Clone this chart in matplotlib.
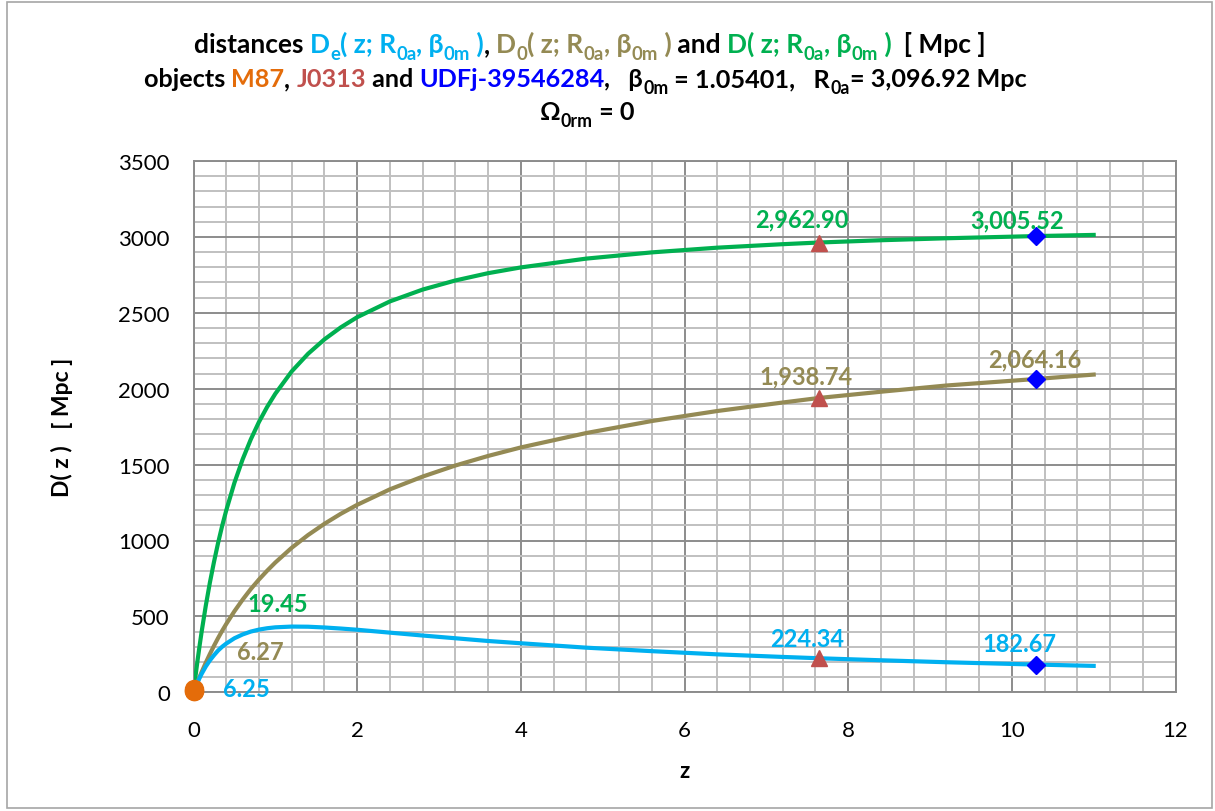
import matplotlib
matplotlib.use('Agg')
import matplotlib.pyplot as plt
from matplotlib.ticker import MultipleLocator
from matplotlib.patches import Rectangle

FAM = ['Lato', 'DejaVu Sans']
plt.rcParams['font.family'] = FAM

# distance curves read along z
z_grid = [0, 0.025, 0.05, 0.075, 0.1, 0.15, 0.2, 0.25, 0.3, 0.35, 0.4, 0.5, 0.6, 0.7, 0.8, 0.9,
          1.0, 1.2, 1.4, 1.6, 1.8, 2.0, 2.4, 2.8, 3.2, 3.6, 4.0, 4.8, 5.6, 6.4, 7.2, 7.64,
          8.4, 9.2, 10.3, 11.0]
d_vals = [0, 109, 212, 309, 401, 570, 722, 858, 983, 1096, 1198, 1380, 1534, 1666, 1781, 1880,
          1967, 2114, 2230, 2325, 2404, 2471, 2575, 2653, 2713, 2761, 2799, 2857, 2898, 2929, 2952, 2962.90,
          2978, 2991, 3005.52, 3013]
d0_vals = [0, 35, 69, 102, 134, 195, 252, 306, 357, 405, 450, 534, 610, 680, 743, 801,
           855, 952, 1036, 1110, 1176, 1235, 1337, 1421, 1494, 1557, 1613, 1708, 1787, 1853, 1909, 1938.74,
           1980, 2021, 2064.16, 2093]
de_vals = [0, 34, 66, 95, 122, 170, 210, 244, 275, 300, 321, 356, 381, 400, 413, 422,
           428, 433, 432, 427, 420, 412, 393, 374, 356, 338, 323, 294, 271, 250, 233, 224.34,
           211, 198, 182.67, 174]

# objects: M87, J0313, UDFj-39546284
obj_z = [0.00428, 7.64, 10.3]
obj_d = [19.45, 2962.90, 3005.52]
obj_d0 = [6.27, 1938.74, 2064.16]
obj_de = [6.25, 224.34, 182.67]

c_green = '#00B050'
c_brown = '#948A54'
c_blue = '#00B0F0'
c_orange = '#E46C0A'
c_red = '#C0504D'
c_dblue = '#0000FF'

fig = plt.figure(figsize=(12.15, 8.12), dpi=100)
W, H = 1215, 812
ax = fig.add_axes([193.5 / W, 1 - 693.3 / H, (1175.5 - 193.5) / W, (693.3 - 162) / H])

ax.set_xlim(0, 12)
ax.set_ylim(0, 3500)
ax.xaxis.set_major_locator(MultipleLocator(2))
ax.xaxis.set_minor_locator(MultipleLocator(0.4))
ax.yaxis.set_major_locator(MultipleLocator(500))
ax.yaxis.set_minor_locator(MultipleLocator(100))
ax.grid(which='minor', color='#C0C0C0', lw=1.4)
ax.grid(which='major', color='#8C8C8C', lw=1.4)
ax.set_axisbelow(True)
for s in ax.spines.values():
    s.set_color('#8C8C8C')
    s.set_linewidth(1.4)
ax.tick_params(which='both', length=0)
ax.tick_params(axis='x', pad=20, labelsize=16)
ax.tick_params(axis='y', pad=17, labelsize=16)

ax.plot(z_grid, d_vals, color=c_green, lw=3, zorder=3, solid_joinstyle='round')
ax.plot(z_grid, d0_vals, color=c_brown, lw=3, zorder=3, solid_joinstyle='round')
ax.plot(z_grid, de_vals, color=c_blue, lw=3, zorder=3, solid_joinstyle='round')

# object markers
for vals in (obj_d, obj_d0, obj_de):
    ax.plot(obj_z[0], vals[0], 'o', color=c_orange, ms=13, zorder=5, clip_on=False)
    ax.plot(obj_z[1], vals[1], '^', color=c_red, ms=11, zorder=5)
    ax.plot(obj_z[2], vals[2], 'D', color=c_dblue, ms=9, zorder=5)

# value labels (offsets in pixels)
offs = {
    'd': [(84, 86), (-17, 24), (-19, 16)],
    'd0': [(66, 40), (-13, 22), (-2, 20)],
    'de': [(53, 3), (-12, 20), (-17, 21)],
}
for key, vals, col in (('d', obj_d, c_green), ('d0', obj_d0, c_brown), ('de', obj_de, c_blue)):
    for i in range(3):
        ax.annotate(f'{vals[i]:,.2f}', (obj_z[i], vals[i]), xytext=offs[key][i],
                    textcoords='offset pixels', ha='center', va='center',
                    color=col, fontsize=17, fontweight='bold', zorder=6)

ax.set_xlabel('z', fontsize=16, fontweight='bold', labelpad=14)
ax.set_ylabel('D( z )   [ Mpc ]', fontsize=16.5, fontweight='bold', labelpad=33)


def rich_line(yc, pieces, size, xc=588):
    # lay out coloured pieces side by side, subscripts smaller and lowered
    r = fig.canvas.get_renderer()
    items = []
    total = 0
    for p in pieces:
        s, col = p[0], p[1]
        sub = len(p) > 2
        fs = size * 0.7 if sub else size
        t = fig.text(0, 0, s, color=col, fontsize=fs, fontweight='bold',
                     family=FAM, ha='left', va='baseline')
        w = t.get_window_extent(r).width
        items.append((t, sub, total))
        total += w
    x0 = xc - total / 2
    for t, sub, off in items:
        dy = -size * 0.38 if sub else 0
        t.set_position(((x0 + off) / W, 1 - (yc - dy) / H))


k = 'black'
rich_line(53, [("distances ", k), ("D", c_blue), ("e", c_blue, 1), ("( z; R", c_blue), ("0a", c_blue, 1),
               (", β", c_blue), ("0m", c_blue, 1), (" )", c_blue), (", ", k),
               ("D", c_brown), ("0", c_brown, 1), ("( z; R", c_brown), ("0a", c_brown, 1),
               (", β", c_brown), ("0m", c_brown, 1), (" )", c_brown), (" and ", k),
               ("D( z; R", c_green), ("0a", c_green, 1), (", β", c_green), ("0m", c_green, 1),
               (" )", c_green), ("  [ Mpc ]", k)], 19, xc=590)
rich_line(87, [("objects ", k), ("M87", c_orange), (", ", k), ("J0313", c_red), (" and ", k),
               ("UDFj-39546284", c_dblue), (",   β", k), ("0m", k, 1), (" = 1.05401,   R", k),
               ("0a", k, 1), ("= 3,096.92 Mpc", k)], 18.2, xc=585)
rich_line(120, [("Ω", k), ("0rm", k, 1), (" = 0", k)], 18.2, xc=587)

fig.patches.append(Rectangle((7 / W, 3 / H), 1 - 10 / W, 1 - 6 / H, transform=fig.transFigure,
                             fill=False, edgecolor='#A6A6A6', lw=1.2))

fig.savefig('out.png', dpi=100)
